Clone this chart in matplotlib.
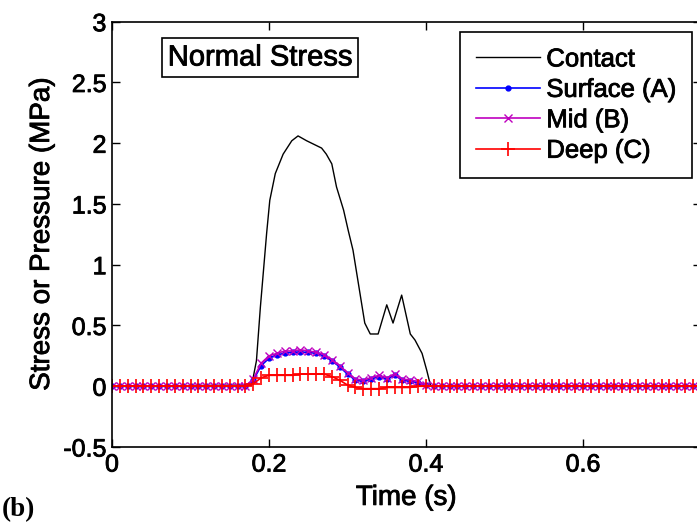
import matplotlib
matplotlib.use("Agg")
import matplotlib.pyplot as plt
import matplotlib.patheffects as pe
import numpy as np

plt.rcParams['font.family'] = ['Liberation Sans', 'DejaVu Sans']

# Sampled series (time step 0.01 s, 0 .. 0.75)
time = np.round(np.arange(0, 0.7501, 0.01), 2)

surface_a = [0]*18 + [0.05, 0.17, 0.23, 0.26, 0.27, 0.28, 0.28, 0.28, 0.27, 0.25,
                      0.21, 0.16, 0.10, 0.05, 0.04, 0.06, 0.08, 0.06, 0.09, 0.05,
                      0.04, 0.03, 0.01] + [0]*35
mid_b = [0]*18 + [0.06, 0.19, 0.25, 0.27, 0.29, 0.29, 0.30, 0.29, 0.28, 0.26,
                  0.22, 0.17, 0.11, 0.06, 0.05, 0.07, 0.09, 0.07, 0.10, 0.06,
                  0.05, 0.04, 0.01] + [0]*35
deep_c = [0]*18 + [0.02, 0.07, 0.09, 0.09, 0.09, 0.09, 0.10, 0.10, 0.10, 0.10,
                   0.08, 0.05, 0.01, -0.01, -0.02, -0.02, -0.02, -0.01, -0.01, -0.01,
                   -0.01, 0.0, 0.0] + [0]*35

contact_t = [0, 0.178, 0.184, 0.189, 0.197, 0.201, 0.208, 0.218, 0.229, 0.237,
             0.248, 0.267, 0.273, 0.280, 0.286, 0.295, 0.301, 0.307, 0.316, 0.322,
             0.329, 0.339, 0.350, 0.358, 0.369, 0.380, 0.386, 0.395, 0.401, 0.406, 0.75]
contact_v = [0, 0.01, 0.21, 0.65, 1.26, 1.53, 1.75, 1.91, 2.02, 2.06,
             2.02, 1.96, 1.91, 1.83, 1.64, 1.45, 1.28, 1.12, 0.76, 0.52,
             0.43, 0.43, 0.67, 0.52, 0.75, 0.43, 0.38, 0.27, 0.13, 0.0, 0]

xticks = [0, 0.2, 0.4, 0.6]
xticklabels = ['0', '0.2', '0.4', '0.6']
yticks = [-0.5, 0, 0.5, 1, 1.5, 2, 2.5, 3]
yticklabels = ['-0.5', '0', '0.5', '1', '1.5', '2', '2.5', '3']

W, H = 697, 525
fig = plt.figure(figsize=(W/100, H/100), dpi=100)
ax = fig.add_axes([112/W, 1-447/H, 588.75/W, (447-21.7)/H])

ax.plot(contact_t, contact_v, color='black', lw=1.0, label='Contact')
ax.plot(time, surface_a, color='#0000ff', lw=1.2, marker='.', ms=7, label='Surface (A)')
ax.plot(time, mid_b, color='#bf00bf', lw=1.2, marker='x', ms=6, mew=1.0, label='Mid (B)')
ax.plot(time, deep_c, color='#ff0000', lw=1.2, marker='+', ms=10, mew=1.2, label='Deep (C)')

ax.set_xlim(0, 0.75)
ax.set_ylim(-0.5, 3)
ax.set_xticks(xticks)
ax.set_xticklabels(xticklabels)
ax.set_yticks(yticks)
ax.set_yticklabels(yticklabels)
ax.tick_params(direction='in', length=6, width=1, top=True, right=True,
               labelsize=18, pad=4)
for s in ax.spines.values():
    s.set_linewidth(1.2)

ax.set_xlabel('Time (s)', fontsize=20, labelpad=6)
ax.set_ylabel('Stress or Pressure (MPa)', fontsize=20, labelpad=6)

leg = ax.legend(loc='upper right', bbox_to_anchor=(692/W, 1-32/H),
                bbox_transform=fig.transFigure, fontsize=18.5, frameon=True,
                fancybox=False, edgecolor='black', framealpha=1,
                handlelength=2.5, handletextpad=0.25, borderpad=0.6,
                labelspacing=0.25, borderaxespad=0)
leg.get_frame().set_linewidth(1.2)

title = fig.text(260/W, 1-57.5/H, 'Normal Stress', fontsize=21, ha='center', va='center',
                 bbox=dict(boxstyle='square,pad=0.2', fc='white', ec='black', lw=1.2))

lab = fig.text(2/W, 1-510/H, '(b)', fontsize=19.5, fontweight='bold',
               family=['Liberation Serif', 'DejaVu Serif'], ha='left', va='center')

# slightly heavier text rendering, like the reference
heavy = [pe.withStroke(linewidth=0.6, foreground='black')]
texts = ax.get_xticklabels() + ax.get_yticklabels() + leg.get_texts() + \
    [ax.xaxis.label, ax.yaxis.label, title]
for t in texts:
    t.set_path_effects(heavy)

fig.savefig('out.png', dpi=100)
